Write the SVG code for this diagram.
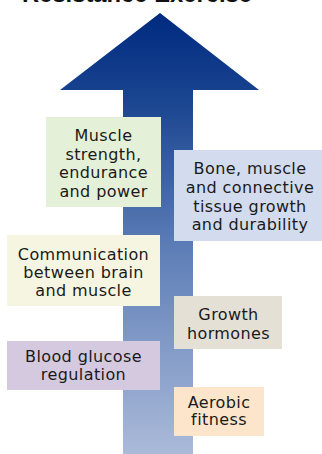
<svg xmlns="http://www.w3.org/2000/svg" width="322" height="454" viewBox="0 0 322 454">
<defs>
<linearGradient id="arrowGrad" gradientUnits="userSpaceOnUse" x1="0" y1="13" x2="0" y2="454">
<stop offset="0" stop-color="#002a7f"/>
<stop offset="0.2" stop-color="#1a4590"/>
<stop offset="0.55" stop-color="#6080b8"/>
<stop offset="1" stop-color="#abbad9"/>
</linearGradient>
<style>
.lbl{font-family:"DejaVu Sans","Liberation Sans",sans-serif;font-size:16px;letter-spacing:0.4px;fill:#1a1a1a;text-anchor:middle}
.title{font-family:"Liberation Sans",Arial,sans-serif;font-weight:bold;font-size:24px;fill:#111}
</style>
</defs>
<rect width="322" height="454" fill="#ffffff"/>
<text class="title" x="22" y="2" textLength="230" lengthAdjust="spacingAndGlyphs">Resistance Exercise</text>
<g id="arrow">
<path d="M160,13 L259,90 L193,90 L193,454 L123,454 L123,90 L60,90 Z" fill="url(#arrowGrad)"/>
</g>
<g id="muscle-strength">
<rect x="46" y="117" width="115" height="90" fill="#e5f0d8"/>
<text class="lbl" x="103.5" y="141">Muscle</text>
<text class="lbl" x="103.5" y="159.5">strength,</text>
<text class="lbl" x="103.5" y="178">endurance</text>
<text class="lbl" x="103.5" y="196.5">and power</text>
</g>
<g id="bone-muscle">
<rect x="174" y="150" width="148" height="91" fill="#d3dbee"/>
<text class="lbl" x="250" y="174">Bone, muscle</text>
<text class="lbl" x="250" y="193">and connective</text>
<text class="lbl" x="250" y="211.5">tissue growth</text>
<text class="lbl" x="250" y="229.5">and durability</text>
</g>
<g id="communication">
<rect x="7" y="235" width="153" height="71" fill="#f6f5e1"/>
<text class="lbl" x="83.5" y="259.5">Communication</text>
<text class="lbl" x="83.5" y="278">between brain</text>
<text class="lbl" x="83.5" y="296">and muscle</text>
</g>
<g id="growth-hormones">
<rect x="174" y="296" width="108" height="53" fill="#e4e0d6"/>
<text class="lbl" x="228.5" y="320">Growth</text>
<text class="lbl" x="228.5" y="339">hormones</text>
</g>
<g id="blood-glucose">
<rect x="7" y="341" width="153" height="49" fill="#d5c9df"/>
<text class="lbl" x="83.5" y="362">Blood glucose</text>
<text class="lbl" x="83.5" y="379.5">regulation</text>
</g>
<g id="aerobic">
<rect x="174" y="387" width="90" height="49" fill="#fde5cc"/>
<text class="lbl" x="219" y="407.5">Aerobic</text>
<text class="lbl" x="219" y="425">fitness</text>
</g>
<g id="connectors"></g>
</svg>
